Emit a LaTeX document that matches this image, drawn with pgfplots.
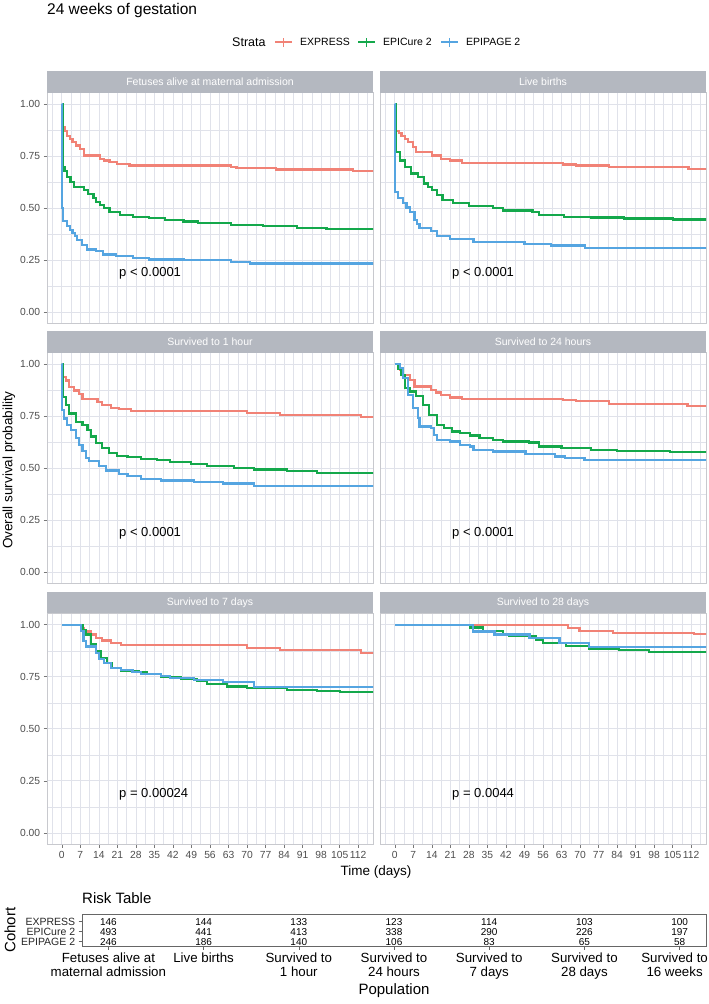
\documentclass[border=0pt]{standalone}
\usepackage{fontspec}
\setmainfont{Liberation Sans}
\usepackage{pgfplots}
\usepackage{pgfplotstable}
\pgfplotsset{compat=1.18}

\definecolor{cred}{RGB}{241,130,118}
\definecolor{cgreen}{RGB}{20,168,75}
\definecolor{cblue}{RGB}{85,165,225}
\definecolor{stripc}{RGB}{180,184,192}
\definecolor{gridc}{RGB}{224,226,234}
\definecolor{bordc}{RGB}{200,201,206}
\definecolor{tickc}{RGB}{120,120,120}
\definecolor{labc}{RGB}{77,77,77}

\newcommand{\fs}[1]{\fontsize{#1}{#1}\selectfont}

\pgfplotstableread{
x EXPRESS EPICure EPIPAGE
1 146 493 246
2 144 441 186
3 133 413 140
4 123 338 106
5 114 290 83
6 103 226 65
7 100 197 58
}\risktable

\tikzset{pv/.style={anchor=base west, inner sep=0pt, font=\fs{13}}}

\pgfplotsset{
  km/.style={
    scale only axis, width=326pt, height=231pt, anchor=south west,
    xmin=-5.6, xmax=117.6, ymin=-0.055, ymax=1.055,
    xtick={0,7,...,112}, ytick={0,0.25,0.5,0.75,1},
    minor xtick={-3.5,3.5,...,115.5}, minor ytick={0.125,0.375,0.625,0.875},
    xmajorgrids, ymajorgrids, xminorgrids, yminorgrids,
    major grid style={draw=gridc, line width=0.7pt},
    minor grid style={draw=gridc, line width=0.5pt},
    axis line style={draw=bordc, line width=0.7pt},
    tick align=outside, major tick length=3.3pt, minor tick length=0pt,
    tick style={draw=tickc, line width=0.6pt},
    xtick pos=bottom, ytick pos=left,
    ticklabel style={font=\fs{10.3}, text=labc},
    /pgf/number format/assume math mode=true,
    yticklabel style={/pgf/number format/.cd, fixed, fixed zerofill, precision=2},
    clip=true,
  },
  notopx/.style={xticklabels={}, xmajorticks=false},
  noleft/.style={yticklabels={}, ymajorticks=false},
  sred/.style={const plot, draw=cred, line width=2.2pt},
  sgreen/.style={const plot, draw=cgreen, line width=2.2pt},
  sblue/.style={const plot, draw=cblue, line width=2.2pt},
}

\begin{document}
\begin{tikzpicture}[x=1pt,y=1pt]
\useasboundingbox (0,0) rectangle (709,1004);

% title
\node[anchor=base west, inner sep=0pt, font=\fs{15.5}] at (47,989.5) {24 weeks of gestation};

% legend
\node[anchor=west, inner sep=0pt, font=\fs{12.5}] at (232,961.7) {Strata};
\draw[cred, line width=1.8pt] (275,961.7) -- (292,961.7);
\draw[cred, line width=1.8pt] (283.5,957.3) -- (283.5,966.1);
\node[anchor=west, inner sep=0pt, font=\fs{10.5}] at (300,961.7) {EXPRESS};
\draw[cgreen, line width=1.8pt] (358,961.7) -- (375,961.7);
\draw[cgreen, line width=1.8pt] (366.5,957.3) -- (366.5,966.1);
\node[anchor=west, inner sep=0pt, font=\fs{10.5}] at (383,961.7) {EPICure 2};
\draw[cblue, line width=1.8pt] (441,961.7) -- (458,961.7);
\draw[cblue, line width=1.8pt] (449.5,957.3) -- (449.5,966.1);
\node[anchor=west, inner sep=0pt, font=\fs{10.5}] at (466,961.7) {EPIPAGE 2};

% ---------- Panel 1: Fetuses alive at maternal admission
\begin{axis}[km, notopx, at={(47pt,680.2pt)}]
\addplot[sred] coordinates {(0,1) (0.3,0.889) (1,0.870) (2.1,0.849) (3,0.833) (4,0.817) (5.5,0.802) (7,0.786) (8.3,0.754) (14.5,0.738) (16,0.730) (18,0.722) (21,0.714) (25.6,0.706) (64,0.698) (66,0.695) (81,0.686) (110,0.679) (118,0.679)};
\addplot[sgreen] coordinates {(0,1) (0.3,0.700) (1,0.680) (2.1,0.651) (3.3,0.627) (4.6,0.603) (8.3,0.587) (10,0.570) (12,0.548) (13,0.532) (14.5,0.516) (16,0.500) (18,0.484) (22,0.468) (27,0.460) (33,0.452) (39,0.444) (46,0.437) (51.5,0.429) (64,0.421) (76,0.413) (89,0.405) (100,0.400) (118,0.400)};
\addplot[sblue] coordinates {(0,1) (0.1,0.500) (0.4,0.440) (2,0.413) (3,0.397) (4,0.381) (5,0.365) (5.8,0.349) (7.6,0.325) (9.5,0.302) (13,0.294) (15.7,0.278) (20.6,0.270) (27,0.262) (33,0.254) (46,0.251) (64,0.241) (71,0.235) (118,0.235)};
\node[pv] at (axis cs:21.6,0.171) {p < 0.0001};
\end{axis}

% ---------- Panel 2: Live births
\begin{axis}[km, notopx, noleft, at={(380pt,680.2pt)}]
\addplot[sred] coordinates {(0,1) (0.4,0.873) (1.5,0.860) (2.5,0.849) (3.7,0.833) (4.9,0.817) (6.8,0.794) (8,0.770) (14.2,0.754) (17.3,0.738) (21,0.730) (25.3,0.719) (63.7,0.710) (68.6,0.706) (81,0.698) (111,0.690) (118,0.690)};
\addplot[sgreen] coordinates {(0,1) (0.4,0.770) (1.9,0.730) (3.7,0.698) (6.2,0.667) (8.7,0.651) (11,0.619) (12.5,0.603) (14.2,0.587) (16,0.563) (18,0.540) (22,0.524) (28,0.511) (37,0.503) (41,0.489) (52,0.481) (54.4,0.468) (64,0.460) (74,0.456) (86.5,0.451) (105,0.446) (118,0.446)};
\addplot[sblue] coordinates {(0,1) (0.05,0.579) (1.2,0.548) (3.1,0.524) (4.4,0.504) (5.6,0.484) (7.4,0.444) (8.3,0.425) (9.3,0.405) (13.6,0.389) (16,0.365) (21,0.352) (29.7,0.338) (49,0.330) (59,0.321) (72,0.310) (118,0.310)};
\node[pv] at (axis cs:21.6,0.171) {p < 0.0001};
\end{axis}

% ---------- Panel 3: Survived to 1 hour
\begin{axis}[km, notopx, at={(47pt,420.3pt)}]
\addplot[sred] coordinates {(0,1) (0.25,0.937) (1.5,0.921) (2.8,0.889) (4.7,0.873) (6.5,0.858) (7.8,0.834) (13.5,0.818) (15.3,0.802) (18.5,0.791) (21.6,0.783) (26,0.775) (70,0.766) (82.6,0.755) (113,0.747) (118,0.747)};
\addplot[sgreen] coordinates {(0,1) (0.25,0.842) (1.5,0.802) (2.8,0.763) (5.3,0.723) (7.8,0.707) (9.7,0.684) (11,0.652) (12.8,0.620) (15.3,0.597) (17.9,0.573) (21,0.560) (24.8,0.552) (29.8,0.544) (36,0.538) (41,0.528) (48.7,0.521) (55,0.509) (65,0.502) (72.6,0.494) (85,0.486) (96.5,0.478) (118,0.478)};
\addplot[sblue] coordinates {(0,1) (0.1,0.778) (0.9,0.739) (2.1,0.707) (3.4,0.684) (5.3,0.644) (6.5,0.612) (7.8,0.581) (9,0.549) (10.3,0.533) (14,0.509) (16.6,0.489) (21.6,0.473) (24.8,0.462) (29.8,0.449) (37.4,0.441) (50,0.434) (61,0.426) (72.6,0.415) (118,0.415)};
\node[pv] at (axis cs:21.6,0.171) {p < 0.0001};
\end{axis}

% ---------- Panel 4: Survived to 24 hours
\begin{axis}[km, notopx, noleft, at={(380pt,420.3pt)}]
\addplot[sred] coordinates {(0,1) (1.9,0.973) (3.1,0.949) (5.6,0.925) (7.4,0.893) (13.6,0.877) (15.5,0.864) (17.3,0.853) (21,0.840) (25.3,0.833) (63.7,0.827) (68.6,0.821) (81,0.809) (110.6,0.800) (118,0.800)};
\addplot[sgreen] coordinates {(0,1) (1.2,0.975) (2.5,0.949) (3.7,0.885) (5.6,0.869) (8,0.845) (10.5,0.804) (13,0.756) (16,0.708) (18.5,0.692) (21.6,0.676) (24.7,0.668) (28.4,0.657) (32,0.647) (37,0.636) (41,0.628) (50.7,0.623) (54.4,0.604) (63,0.596) (74,0.588) (84,0.583) (104,0.577) (118,0.577)};
\addplot[sblue] coordinates {(0,1) (1.9,0.980) (3.1,0.933) (4.9,0.853) (6.8,0.788) (8.7,0.740) (9.3,0.700) (13.6,0.692) (14.8,0.660) (16,0.636) (21,0.628) (24.7,0.612) (28.4,0.604) (29.7,0.588) (37,0.580) (49.4,0.567) (60.6,0.556) (64.3,0.548) (71.7,0.540) (118,0.540)};
\node[pv] at (axis cs:21.6,0.171) {p < 0.0001};
\end{axis}

% ---------- Panel 5: Survived to 7 days
\begin{axis}[km, at={(47pt,159.7pt)}]
\addplot[sred] coordinates {(0,1) (7.2,0.984) (8.4,0.968) (11,0.953) (12.8,0.937) (15.3,0.924) (18.5,0.913) (22.3,0.902) (70,0.889) (82.6,0.877) (113,0.866) (118,0.866)};
\addplot[sgreen] coordinates {(0,1) (7.8,0.975) (9,0.953) (11,0.905) (12.8,0.873) (14.7,0.842) (17.2,0.818) (19,0.794) (22.3,0.778) (29,0.771) (32,0.763) (37.4,0.750) (45,0.739) (51,0.731) (55,0.715) (62.5,0.703) (70,0.695) (85,0.687) (96.5,0.680) (105,0.676) (118,0.676)};
\addplot[sblue] coordinates {(0,1) (7.2,0.970) (8.2,0.920) (9,0.895) (12.8,0.866) (14,0.834) (16,0.818) (18.5,0.794) (22.3,0.783) (26.7,0.771) (29.8,0.763) (37.4,0.755) (41,0.744) (50,0.734) (61,0.723) (72.6,0.699) (118,0.699)};
\node[pv] at (axis cs:21.6,0.171) {p = 0.00024};
\end{axis}

% ---------- Panel 6: Survived to 28 days
\begin{axis}[km, noleft, at={(380pt,159.7pt)}]
\addplot[sred] coordinates {(0,1) (65.3,0.984) (69.8,0.971) (82.3,0.960) (113,0.955) (118,0.955)};
\addplot[sgreen] coordinates {(0,1) (28.5,0.987) (33.3,0.971) (40.8,0.956) (43,0.945) (53.4,0.929) (56,0.913) (64.7,0.897) (73.5,0.886) (84.8,0.878) (96,0.869) (118,0.869)};
\addplot[sblue] coordinates {(0,1) (29.5,0.968) (37.7,0.953) (50.9,0.937) (62.2,0.913) (73.5,0.892) (118,0.892)};
\node[pv] at (axis cs:21.6,0.171) {p = 0.0044};
\end{axis}

% strips
\fill[stripc] (47,911.2) rectangle (373,932.7);
\fill[stripc] (380,911.2) rectangle (706,932.7);
\fill[stripc] (47,651.3) rectangle (373,672.8);
\fill[stripc] (380,651.3) rectangle (706,672.8);
\fill[stripc] (47,390.7) rectangle (373,412.2);
\fill[stripc] (380,390.7) rectangle (706,412.2);
\node[white, font=\fs{10.5}, inner sep=0pt] at (210,922) {Fetuses alive at maternal admission};
\node[white, font=\fs{10.5}, inner sep=0pt] at (543,922) {Live births};
\node[white, font=\fs{10.5}, inner sep=0pt] at (210,662) {Survived to 1 hour};
\node[white, font=\fs{10.5}, inner sep=0pt] at (543,662) {Survived to 24 hours};
\node[white, font=\fs{10.5}, inner sep=0pt] at (210,401.5) {Survived to 7 days};
\node[white, font=\fs{10.5}, inner sep=0pt] at (543,401.5) {Survived to 28 days};

% axis titles
\node[rotate=90, font=\fs{13.5}, inner sep=0pt] at (9,534) {Overall survival probability};
\node[font=\fs{13.5}, inner sep=0pt] at (376,132.3) {Time (days)};

% ---------- Risk table
\node[anchor=west, inner sep=0pt, font=\fs{15}] at (82,105.5) {Risk Table};
\begin{axis}[
  scale only axis, width=624pt, height=32.5pt, at={(82pt,57.5pt)}, anchor=south west,
  xmin=0.7227, xmax=7.2773, ymin=0.52, ymax=3.77,
  xtick={1,2,3,4,5,6}, ytick={1,2,3},
  xticklabels={{Fetuses alive at\\maternal admission},{Live births},{Survived to\\1 hour},{Survived to\\24 hours},{Survived to\\7 days},{Survived to\\28 days}},
  extra x ticks={7},
  extra x tick labels={{Survived to\\16 weeks}},
  extra x tick style={xticklabel style={xshift=-5pt}},
  yticklabels={EPIPAGE 2,EPICure 2,EXPRESS},
  xtick pos=bottom, ytick pos=left, tick align=outside, major tick length=3.3pt,
  axis line style={draw=black!60, line width=0.7pt},
  tick style={draw=black!60, line width=0.6pt},
  xticklabel style={align=center, font=\fontsize{13.3}{13.6}\selectfont, text=black},
  yticklabel style={font=\fs{10.5}, text=black!85},
  clip=false,
  nodes near coords, point meta=explicit symbolic,
  nodes near coords align={center},
  every node near coord/.append style={font=\fs{10}, text=black, inner sep=0pt},
]
\addplot[only marks, mark=*, mark size=0pt, mark options={draw=none, fill=none}] table[x=x, y expr=3, meta=EXPRESS] {\risktable};
\addplot[only marks, mark=*, mark size=0pt, mark options={draw=none, fill=none}] table[x=x, y expr=2, meta=EPICure] {\risktable};
\addplot[only marks, mark=*, mark size=0pt, mark options={draw=none, fill=none}] table[x=x, y expr=1, meta=EPIPAGE] {\risktable};
\end{axis}
\node[font=\fs{15}, inner sep=0pt] at (394,13.5) {Population};
\node[rotate=90, font=\fs{15}, inner sep=0pt] at (10,74) {Cohort};

\end{tikzpicture}
\end{document}
